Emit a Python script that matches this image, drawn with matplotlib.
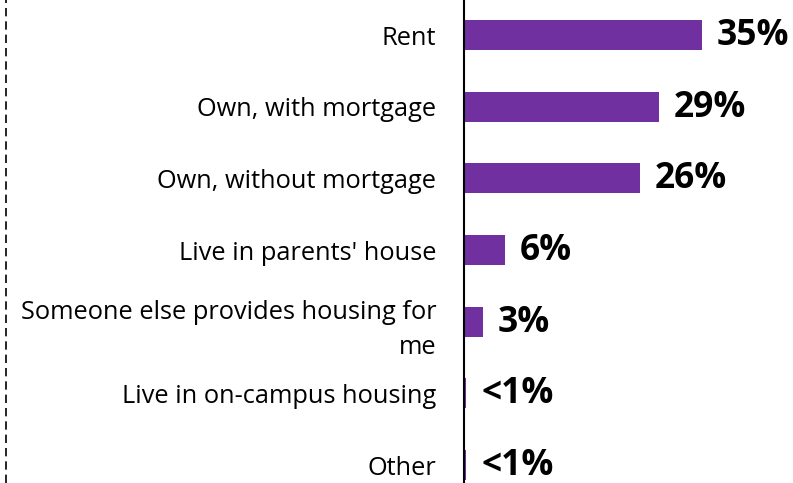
import matplotlib
matplotlib.use("Agg")
import matplotlib.pyplot as plt
from matplotlib.lines import Line2D

categories = ["Rent", "Own, with mortgage", "Own, without mortgage",
              "Live in parents' house", "Someone else provides housing for\nme",
              "Live in on-campus housing", "Other"]
values = [35, 28.7, 25.9, 6.0, 2.8, 0.3, 0.3]
value_labels = ["35%", "29%", "26%", "6%", "3%", "<1%", "<1%"]

color = "#7030A0"
W, H = 793, 483
fig = plt.figure(figsize=(W / 100, H / 100), dpi=100)
ax = fig.add_axes([464 / W, 0, 1 - 464 / W, 1])

y = list(range(len(categories)))
ax.barh(y, values, height=0.42, color=color)
ax.set_ylim(6.25, -0.49)
ax.set_xlim(0, (W - 464) / 6.8)

for yi, v, lab in zip(y, values, value_labels):
    ax.annotate(lab, (v, yi), xytext=(15, -1), textcoords="offset pixels",
                va="center", ha="left", fontsize=25.5, fontweight="bold", family="Open Sans")

ax.set_yticks(y)
ax.set_yticklabels(categories, fontsize=18.3, family="Open Sans", ha="right", linespacing=1.55)
ax.tick_params(axis="y", length=0, pad=20)
ax.set_xticks([])
for s in ["top", "right", "bottom"]:
    ax.spines[s].set_visible(False)
ax.spines["left"].set_linewidth(1.5)

fig.add_artist(Line2D([6 / W, 6 / W], [0, 1], transform=fig.transFigure,
                      color="black", linewidth=1.2, linestyle=(0, (5, 3))))

fig.savefig("out.png", dpi=100)
